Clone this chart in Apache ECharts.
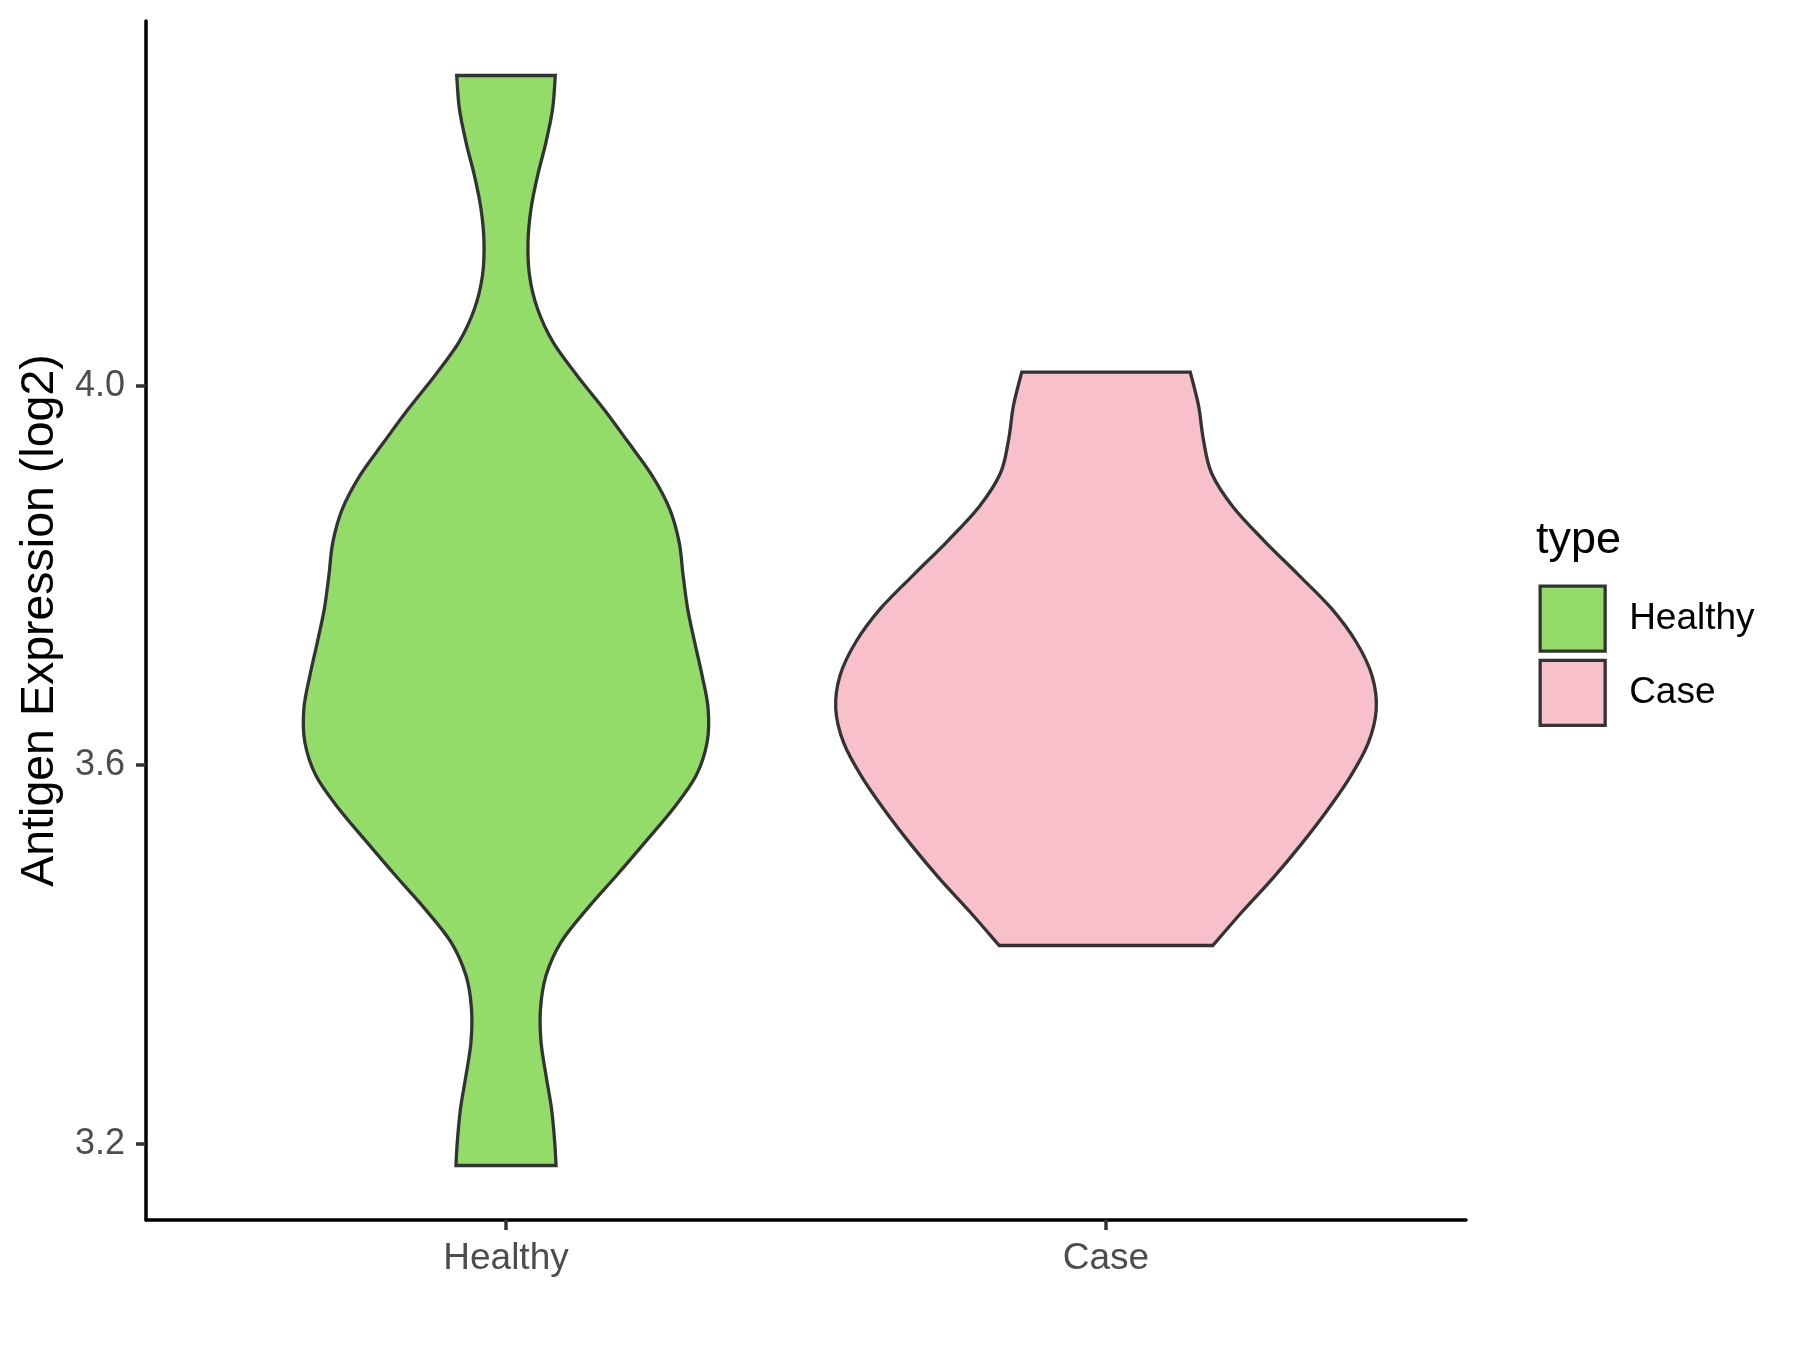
<!DOCTYPE html>
<html>
<head>
<meta charset="utf-8">
<script src="https://cdn.jsdelivr.net/npm/echarts@6/dist/echarts.min.js"></script>
<style>
  html, body { margin: 0; padding: 0; background: #fff; }
  #chart { width: 1800px; height: 1350px; }
</style>
</head>
<body>
<div id="chart"></div>
<script>
// ---- Data ----
const categories = ['Healthy', 'Case'];
const yTicks = [3.2, 3.6, 4.0];
const yAxisTitle = 'Antigen Expression (log2)';
const legendTitle = 'type';
const colors = ['#93DC6A', '#F7C0CB'];

// Violin outline: expression value (top to bottom) and half-width in category units
const healthyY = [4.3275, 4.2923, 4.2572, 4.2220, 4.1868, 4.1517, 4.1164, 4.0813, 4.0461, 4.0109,
                  3.9757, 3.9406, 3.9053, 3.8702, 3.8350, 3.7998, 3.7646, 3.7295, 3.6942, 3.6591,
                  3.6240, 3.5887, 3.5536, 3.5184, 3.4832, 3.4480, 3.4129, 3.3776, 3.3425, 3.3073,
                  3.2721, 3.2369, 3.2018, 3.1771];
const healthyHalfWidth = [0.0822, 0.0777, 0.0667, 0.0527, 0.0417, 0.0367, 0.0392, 0.0525, 0.0784, 0.1184,
                  0.1626, 0.2035, 0.2435, 0.2727, 0.2886, 0.2952, 0.3028, 0.3144, 0.3269, 0.3369,
                  0.3353, 0.3169, 0.2786, 0.2319, 0.1843, 0.1351, 0.0917, 0.0667, 0.0575, 0.0584,
                  0.0667, 0.0759, 0.0812, 0.0834];
const caseY = [4.0145, 3.9789, 3.9432, 3.9077, 3.8721, 3.8364, 3.8008, 3.7653, 3.7296, 3.6940,
               3.6585, 3.6228, 3.5872, 3.5517, 3.5160, 3.4804, 3.4449, 3.4093];
const caseHalfWidth = [0.1404, 0.1543, 0.1623, 0.1760, 0.2118, 0.2636, 0.3203, 0.3753, 0.4170, 0.4434,
               0.4504, 0.4370, 0.4070, 0.3686, 0.3253, 0.2782, 0.2269, 0.1781];

// ---- Build chart ----
function toSeriesData(catIndex, ys, hws) {
  return ys.map((y, i) => [catIndex + 1, y, hws[i]]);
}
function fmt(p) { return p[0].toFixed(2) + ',' + p[1].toFixed(2); }
function catmull(pts) {
  let d = '';
  const n = pts.length;
  for (let i = 0; i < n - 1; i++) {
    const p0 = pts[Math.max(i - 1, 0)], p1 = pts[i], p2 = pts[i + 1], p3 = pts[Math.min(i + 2, n - 1)];
    const c1 = [p1[0] + (p2[0] - p0[0]) / 6, p1[1] + (p2[1] - p0[1]) / 6];
    const c2 = [p2[0] - (p3[0] - p1[0]) / 6, p2[1] - (p3[1] - p1[1]) / 6];
    d += ' C' + fmt(c1) + ' ' + fmt(c2) + ' ' + fmt(p2);
  }
  return d;
}
function makeRender(color) {
  return function (params, api) {
    if (params.dataIndexInside !== 0) return;
    const n = params.dataInsideLength;
    const right = [], left = [];
    for (let i = 0; i < n; i++) {
      const c = api.value(0, i), y = api.value(1, i), hw = api.value(2, i);
      right.push(api.coord([c + hw, y]));
      left.push(api.coord([c - hw, y]));
    }
    const leftUp = left.slice().reverse();
    const d = 'M' + fmt(right[0]) + catmull(right) + ' L' + fmt(leftUp[0]) + catmull(leftUp) + ' Z';
    return {
      type: 'path',
      shape: { pathData: d },
      style: { fill: color, stroke: '#333333', lineWidth: 3.3, lineJoin: 'miter' }
    };
  };
}

const yLo = 3.1196, yHi = 4.385;
const chart = echarts.init(document.getElementById('chart'), null, { renderer: 'canvas' });
const font = '"Liberation Sans", Arial, Helvetica, sans-serif';

chart.setOption({
  animation: false,
  backgroundColor: '#ffffff',
  textStyle: { fontFamily: font },
  title: {
    text: legendTitle,
    left: 1536, top: 518, padding: 0,
    textStyle: { fontFamily: font, fontSize: 45, fontWeight: 'normal', color: '#000' }
  },
  legend: {
    orient: 'vertical',
    left: 1538.5, top: 584.5, padding: 0,
    itemWidth: 65, itemHeight: 65, itemGap: 6,
    selectedMode: false,
    textStyle: { fontFamily: font, fontSize: 37, color: '#000', padding: [0, 0, 0, 19] },
    data: categories.map((c, i) => ({
      name: c, icon: 'rect',
      itemStyle: { color: colors[i], borderColor: '#333333', borderWidth: 3.3 }
    }))
  },
  grid: { left: 146, right: 334, top: 21, bottom: 130, containLabel: false },
  xAxis: {
    type: 'value', min: 0.4, max: 2.6,
    axisLine: { show: true, lineStyle: { color: '#000', width: 3.5 } },
    axisTick: { show: true, customValues: [1, 2], length: 10, lineStyle: { color: '#333', width: 3.5 } },
    axisLabel: {
      customValues: [1, 2], margin: 20,
      formatter: v => categories[Math.round(v) - 1],
      fontFamily: font, fontSize: 37, color: '#4D4D4D'
    },
    splitLine: { show: false }
  },
  yAxis: {
    type: 'value', min: yLo, max: yHi,
    name: yAxisTitle, nameLocation: 'middle', nameRotate: 90, nameGap: 81,
    nameTextStyle: { fontFamily: font, fontSize: 46.5, color: '#000' },
    axisLine: { show: true, lineStyle: { color: '#000', width: 3.5 } },
    axisTick: { show: true, customValues: yTicks, length: 10, lineStyle: { color: '#333', width: 3.5 } },
    axisLabel: {
      customValues: yTicks, margin: 21,
      formatter: v => v.toFixed(1),
      fontFamily: font, fontSize: 36, color: '#4D4D4D'
    },
    splitLine: { show: false }
  },
  series: [
    {
      name: categories[0], type: 'custom', clip: false,
      itemStyle: { color: colors[0], borderColor: '#333', borderWidth: 3.3 },
      renderItem: makeRender(colors[0]),
      encode: { x: 0, y: 1 },
      data: toSeriesData(0, healthyY, healthyHalfWidth)
    },
    {
      name: categories[1], type: 'custom', clip: false,
      itemStyle: { color: colors[1], borderColor: '#333', borderWidth: 3.3 },
      renderItem: makeRender(colors[1]),
      encode: { x: 0, y: 1 },
      data: toSeriesData(1, caseY, caseHalfWidth)
    }
  ]
});
</script>
</body>
</html>
